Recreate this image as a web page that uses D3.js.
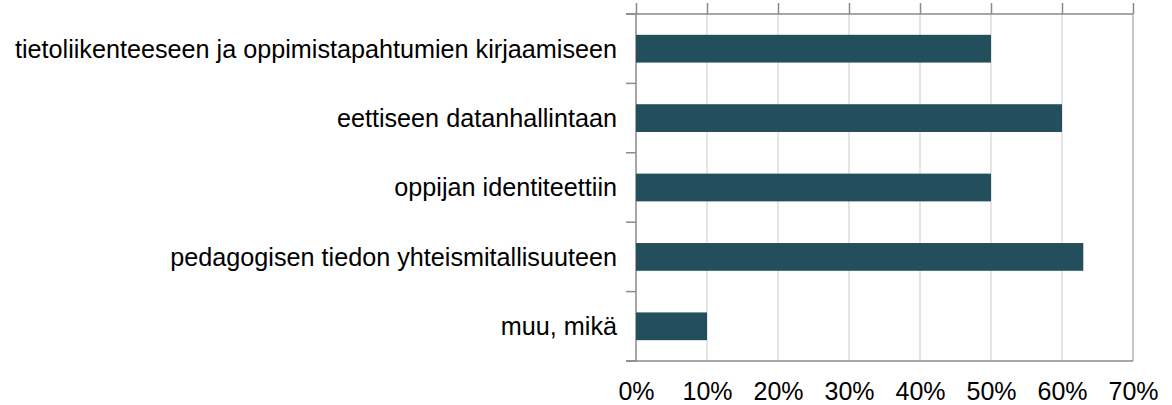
<!DOCTYPE html>
<html>
<head>
<meta charset="utf-8">
<script src="https://cdn.jsdelivr.net/npm/d3@7"></script>
<style>
  body { margin: 0; background: #fff; }
  text { font-family: "Liberation Sans", Arial, sans-serif; fill: #000; }
</style>
</head>
<body>
<div id="chart"></div>
<script>
const categories = [
  "tietoliikenteeseen ja oppimistapahtumien kirjaamiseen",
  "eettiseen datanhallintaan",
  "oppijan identiteettiin",
  "pedagogisen tiedon yhteismitallisuuteen",
  "muu, mikä"
];
const values = [0.50, 0.60, 0.50, 0.63, 0.10];
const xTicks = [0, 0.1, 0.2, 0.3, 0.4, 0.5, 0.6, 0.7];

const width = 1172, height = 405;
const margin = { top: 14, right: 39, bottom: 44, left: 636 };

const svg = d3.select("#chart").append("svg")
  .attr("width", width)
  .attr("height", height);

const x = d3.scaleLinear()
  .domain([0, 0.7])
  .range([margin.left, width - margin.right]);

const y = d3.scaleBand()
  .domain(categories)
  .range([margin.top, height - margin.bottom])
  .paddingInner(0.6)
  .paddingOuter(0.3);

const plotTop = margin.top, plotBottom = height - margin.bottom;
const step = y.step();

// gridlines
svg.append("g")
  .selectAll("line")
  .data(xTicks.slice(1))
  .join("line")
  .attr("x1", d => x(d)).attr("x2", d => x(d))
  .attr("y1", plotTop).attr("y2", plotBottom)
  .attr("stroke", d => d === 0.7 ? "#b3b3b3" : "#dddddd")
  .attr("stroke-width", 1.5);

// top axis: line with outward ticks
const topAxis = svg.append("g")
  .attr("transform", `translate(0,${plotTop})`)
  .call(d3.axisTop(x).tickValues(xTicks).tickSize(11).tickFormat(""));
topAxis.select(".domain").remove();
topAxis.selectAll("line").attr("stroke", "#8a8a8a").attr("stroke-width", 1.5);
svg.append("line")
  .attr("x1", margin.left - 10).attr("x2", x(0.7))
  .attr("y1", plotTop).attr("y2", plotTop)
  .attr("stroke", "#8a8a8a").attr("stroke-width", 1.5);

// bottom axis line + labels
svg.append("line")
  .attr("x1", margin.left - 10).attr("x2", x(0.7))
  .attr("y1", plotBottom).attr("y2", plotBottom)
  .attr("stroke", "#8a8a8a").attr("stroke-width", 1.5);
const bottomAxis = svg.append("g")
  .attr("transform", `translate(0,${plotBottom})`)
  .call(d3.axisBottom(x).tickValues(xTicks).tickSize(0).tickPadding(21)
    .tickFormat(d3.format(".0%")));
bottomAxis.select(".domain").remove();
bottomAxis.selectAll("text").style("font-size", "25px");

// left axis
svg.append("line")
  .attr("x1", margin.left).attr("x2", margin.left)
  .attr("y1", plotTop).attr("y2", plotBottom)
  .attr("stroke", "#8a8a8a").attr("stroke-width", 1.5);
svg.append("g")
  .selectAll("line")
  .data(d3.range(categories.length + 1))
  .join("line")
  .attr("x1", margin.left - 10).attr("x2", margin.left)
  .attr("y1", i => plotTop + i * step).attr("y2", i => plotTop + i * step)
  .attr("stroke", "#8a8a8a").attr("stroke-width", 1.5);

// category labels
svg.append("g")
  .selectAll("text")
  .data(categories)
  .join("text")
  .attr("x", margin.left - 19)
  .attr("y", d => y(d) + y.bandwidth() / 2)
  .attr("dy", "0.35em")
  .attr("text-anchor", "end")
  .style("font-size", "25.2px")
  .text(d => d);

// bars
svg.append("g")
  .selectAll("rect")
  .data(values)
  .join("rect")
  .attr("x", x(0))
  .attr("y", (d, i) => y(categories[i]))
  .attr("width", d => x(d) - x(0))
  .attr("height", y.bandwidth())
  .attr("fill", "#234e5c");
</script>
</body>
</html>
